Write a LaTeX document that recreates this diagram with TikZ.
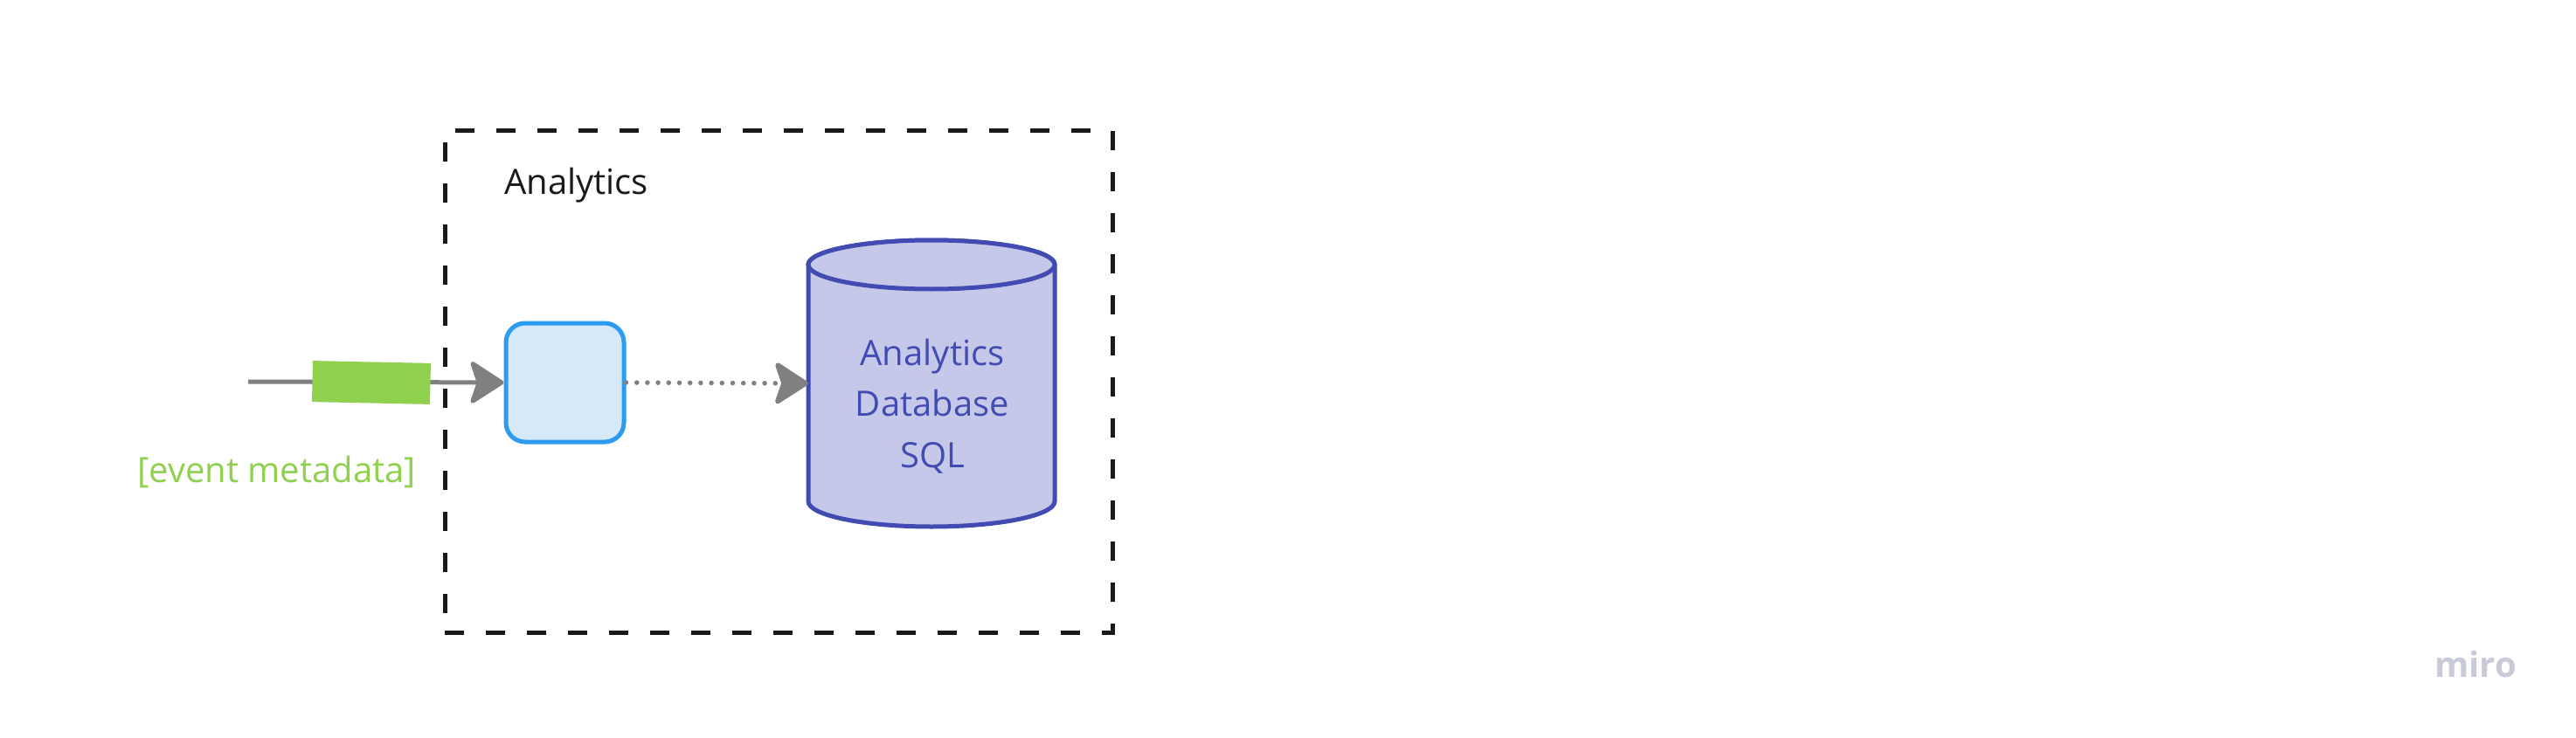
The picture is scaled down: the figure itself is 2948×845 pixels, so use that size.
\documentclass[tikz,border=0pt]{standalone}
\usepackage{fontspec}
\setmainfont{Open Sans}
\usetikzlibrary{arrows.meta}
\definecolor{mgreen}{HTML}{8FD14F}
\definecolor{mgray}{HTML}{808080}
\definecolor{mblue}{HTML}{2D9BF0}
\definecolor{mbluefill}{HTML}{D6E9F9}
\definecolor{mindigo}{HTML}{414BB2}
\definecolor{mindigofill}{HTML}{C6C8EA}
\definecolor{mframe}{HTML}{1A1A1A}
\definecolor{mlogo}{HTML}{C9CAD9}
\tikzset{
  bigtext/.style={font=\fontsize{40}{58.5}\selectfont, inner sep=0pt},
  frame/.style={draw=mframe, line width=5pt, dash pattern=on 22pt off 25pt, minimum width=764pt, minimum height=574pt, inner sep=0pt},
  procbox/.style={draw=mblue, fill=mbluefill, line width=5pt, rounded corners=22pt, minimum width=135pt, minimum height=136pt, inner sep=0pt},
  dbshape/.style={draw=mindigo, fill=mindigofill, line width=5pt},
  tagbox/.style={fill=mgreen, minimum width=135pt, minimum height=47pt, inner sep=0pt, rotate=-1.2},
  tiphead/.style={-{Stealth[length=42pt, width=54pt, inset=9pt, round]}},
  flow/.style={draw=mgray, line width=5pt, tiphead},
  dotflow/.style={draw=mgray, line width=5.5pt, line cap=round, dash pattern=on 0pt off 12.2pt, tiphead},
}
\begin{document}
\begin{tikzpicture}[x=1pt, y=-1pt]
  \useasboundingbox[fill=white] (0,0) rectangle (2948,845);
  % container
  \node[frame] (frame) at (891,437) {};
  \node[bigtext, anchor=base west, text=mframe] (title) at (577,223) {Analytics};
  % process box
  \node[procbox] (proc) at (646.5,438) {};
  % database cylinder
  \node[minimum width=282pt, minimum height=327pt, inner sep=0pt] (db) at (1066,439) {};
  \path[dbshape] (925,303) -- (925,574) arc[start angle=180, end angle=360, x radius=141pt, y radius=29pt] -- (1207,303) arc[start angle=0, end angle=180, x radius=141pt, y radius=28pt] -- cycle;
  \draw[dbshape] (1066,303) ellipse[x radius=141pt, y radius=28pt];
  \node[bigtext, text=mindigo, align=center, anchor=base] (dbtext) at (1067,535) {Analytics\\Database\\SQL};
  % incoming flow
  \coordinate (src) at (284,437);
  \draw[flow] (src) -- (proc.west);
  \node[tagbox] (tag) at (425,438) {};
  \node[bigtext, anchor=base west, text=mgreen] (label) at (157,552) {[event metadata]};
  % dotted flow
  \draw[dotflow] (proc.east) -- (db.west);
  % logo
  \node[bigtext, anchor=base west, text=mlogo, font=\fontsize{40}{48}\selectfont\bfseries] (logo) at (2786,775) {miro};
\end{tikzpicture}
\end{document}
